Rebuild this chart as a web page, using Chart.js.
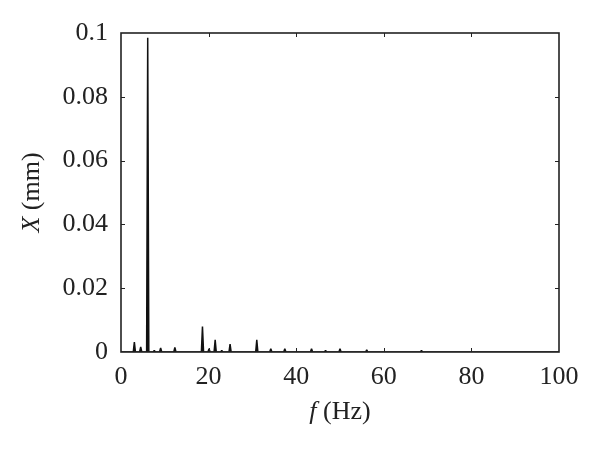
<!DOCTYPE html>
<html>
<head>
<meta charset="utf-8">
<script src="https://cdn.jsdelivr.net/npm/chart.js@4/dist/chart.umd.min.js"></script>
<style>
  html, body { margin: 0; padding: 0; background: #fff; }
  #wrap { width: 600px; height: 453px; }
</style>
</head>
<body>
<div id="wrap"><canvas id="spectrum" width="600" height="453"></canvas></div>
<script>
// spectrum peaks (Hz, mm)
const peakFreqs = [3.05, 4.5, 6.1, 7.6, 9.05, 12.3, 18.6, 20.1, 21.5, 23.0, 24.9, 31.0, 34.2, 37.4, 43.5, 46.7, 50.0, 56.1, 68.6];
const peakAmps  = [0.0031, 0.0016, 0.0985, 0.0005, 0.0013, 0.0014, 0.0080, 0.0010, 0.0038, 0.0005, 0.0025, 0.0038, 0.0010, 0.0010, 0.0010, 0.0005, 0.0010, 0.0007, 0.0005];
const xTicks = [0, 20, 40, 60, 80, 100];
const yTicks = [0, 0.02, 0.04, 0.06, 0.08, 0.1];

const halfBase = 0.25;
const points = [{ x: 0, y: 0 }];
peakFreqs.forEach((f, i) => {
    points.push({ x: f - halfBase, y: 0 });
    points.push({ x: f, y: peakAmps[i] });
    points.push({ x: f + halfBase, y: 0 });
});
points.push({ x: 100, y: 0 });

const serif = "'Liberation Serif', 'DejaVu Serif', serif";

// frame, inward ticks and the mixed-style axis titles
const framePlugin = {
    id: 'frame',
    afterDraw(chart) {
        const { ctx, chartArea: a, scales } = chart;
        ctx.save();
        ctx.strokeStyle = '#222';
        ctx.lineWidth = 1;
        xTicks.slice(1, -1).forEach(v => {
            const px = Math.round(scales.x.getPixelForValue(v)) + 0.5;
            ctx.beginPath();
            ctx.moveTo(px, a.bottom); ctx.lineTo(px, a.bottom - 4);
            ctx.moveTo(px, a.top); ctx.lineTo(px, a.top + 4);
            ctx.stroke();
        });
        yTicks.slice(1, -1).forEach(v => {
            const py = Math.round(scales.y.getPixelForValue(v)) + 0.5;
            ctx.beginPath();
            ctx.moveTo(a.left, py); ctx.lineTo(a.left + 4, py);
            ctx.moveTo(a.right, py); ctx.lineTo(a.right - 4, py);
            ctx.stroke();
        });
        ctx.lineWidth = 1.6;
        ctx.strokeRect(a.left, a.top, a.right - a.left, a.bottom - a.top);

        ctx.fillStyle = '#222';
        ctx.textBaseline = 'middle';
        // x title: italic f + (Hz)
        const cx = (a.left + a.right) / 2;
        ctx.font = 'italic 26px ' + serif;
        const fW = ctx.measureText('f ').width;
        ctx.font = '26px ' + serif;
        const hzW = ctx.measureText('(Hz)').width;
        let x0 = cx - (fW + hzW) / 2;
        ctx.textAlign = 'left';
        ctx.font = 'italic 26px ' + serif;
        ctx.fillText('f', x0, 412);
        ctx.font = '26px ' + serif;
        ctx.fillText('(Hz)', x0 + fW, 412);

        // y title: italic X + (mm), rotated
        ctx.translate(32, (a.top + a.bottom) / 2);
        ctx.rotate(-Math.PI / 2);
        ctx.font = 'italic 26px ' + serif;
        const xW = ctx.measureText('X ').width;
        ctx.font = '26px ' + serif;
        const mmW = ctx.measureText('(mm)').width;
        x0 = -(xW + mmW) / 2;
        ctx.font = 'italic 26px ' + serif;
        ctx.fillText('X', x0, 0);
        ctx.font = '26px ' + serif;
        ctx.fillText('(mm)', x0 + xW, 0);
        ctx.restore();
    }
};

new Chart(document.getElementById('spectrum'), {
    type: 'line',
    data: {
        datasets: [{
            data: points,
            borderColor: '#111',
            backgroundColor: '#111',
            borderWidth: 1.5,
            borderJoinStyle: 'bevel',
            fill: 'origin',
            pointRadius: 0,
            tension: 0
        }]
    },
    options: {
        responsive: false,
        animation: false,
        events: [],
        layout: { padding: { top: 33, right: 41, left: 0, bottom: 0 } },
        plugins: { legend: { display: false }, tooltip: { enabled: false } },
        scales: {
            x: {
                type: 'linear',
                min: 0, max: 100,
                afterBuildTicks: s => { s.ticks = xTicks.map(v => ({ value: v })); },
                afterFit: s => { s.height = 101; },
                grid: { display: false, drawTicks: false },
                border: { display: false },
                ticks: { color: '#222', padding: 10, maxRotation: 0, font: { family: serif, size: 26 } }
            },
            y: {
                min: 0, max: 0.1,
                afterBuildTicks: s => { s.ticks = yTicks.map(v => ({ value: v })); },
                afterFit: s => { s.width = 121; },
                grid: { display: false, drawTicks: false },
                border: { display: false },
                ticks: {
                    color: '#222', padding: 13,
                    font: { family: serif, size: 26 },
                    callback: v => String(+v.toFixed(2))
                }
            }
        }
    },
    plugins: [framePlugin]
});
</script>
</body>
</html>
